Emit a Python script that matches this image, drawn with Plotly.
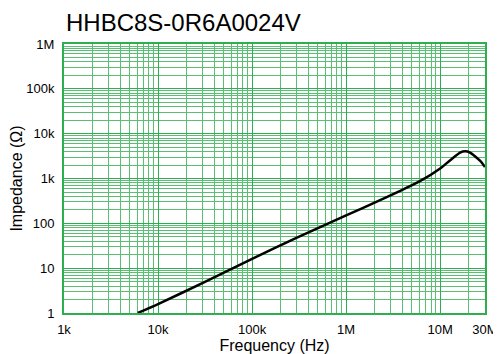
import plotly.graph_objects as go

title_text = "HHBC8S-0R6A0024V"
freq_hz = [6.1e3, 1e4, 3e4, 1e5, 3e5, 1e6, 2.3e6, 3.76e6, 6.1e6, 1e7, 1.28e7, 1.63e7, 1.84e7, 2.08e7, 2.67e7, 3e7]
impedance_ohm = [1.0, 1.58, 4.7, 16.2, 48, 150, 330, 530, 870, 1670, 2560, 3800, 4050, 3800, 2470, 1800]

x_tickvals = [1e3, 1e4, 1e5, 1e6, 1e7, 3e7]
x_ticktext = ["1k", "10k", "100k", "1M", "10M", "30M"]
y_tickvals = [1, 10, 100, 1e3, 1e4, 1e5, 1e6]
y_ticktext = ["1", "10", "100", "1k", "10k", "100k", "1M"]

x_minor = [m * 10**e for e in range(3, 8) for m in range(2, 10) if m * 10**e < 3e7]
y_minor = [m * 10**e for e in range(0, 6) for m in range(2, 10)]

green = "rgb(45,175,80)"
green_minor = "rgb(90,190,115)"
font = "Liberation Sans, Arial, Helvetica, sans-serif"

# the page body has an 8px margin, so the figure is sized 8px smaller
W, H = 493, 346

fig = go.Figure()
fig.add_trace(go.Scatter(x=freq_hz, y=impedance_ohm, mode="lines",
                         line=dict(color="black", width=2.5, shape="spline", smoothing=0.6),
                         showlegend=False, hoverinfo="skip"))

fig.update_layout(
    width=W, height=H,
    margin=dict(l=56, r=16, t=36, b=41, autoexpand=False),
    paper_bgcolor="white", plot_bgcolor="white",
    font=dict(family=font, color="black", size=13),
    title=dict(text=title_text, x=58/W, xref="container", xanchor="left",
               y=1 - 15/H, yref="container", yanchor="middle",
               font=dict(size=24, family=font, color="black"), automargin=False),
)
fig.update_xaxes(type="log", range=[3, 7.4771], tickvals=x_tickvals, ticktext=x_ticktext,
                 automargin=False,
                 showgrid=True, gridcolor=green, gridwidth=1,
                 minor=dict(tickvals=x_minor, showgrid=True, gridcolor=green_minor, gridwidth=1, ticklen=0),
                 showline=True, linecolor=green, linewidth=2, mirror=True,
                 ticks="outside", ticklen=3, tickcolor="rgba(0,0,0,0)",
                 tickfont=dict(size=13),
                 title=dict(text="Frequency (Hz)", font=dict(size=16), standoff=0),
                 zeroline=False)
fig.update_yaxes(type="log", range=[0, 6], tickvals=y_tickvals, ticktext=y_ticktext,
                 automargin=False,
                 showgrid=True, gridcolor=green, gridwidth=1,
                 minor=dict(tickvals=y_minor, showgrid=True, gridcolor=green_minor, gridwidth=1, ticklen=0),
                 showline=True, linecolor=green, linewidth=2, mirror=True,
                 ticks="outside", ticklen=5, tickcolor="rgba(0,0,0,0)",
                 tickfont=dict(size=13),
                 title=dict(text="Impedance (Ω)", font=dict(size=16), standoff=6),
                 zeroline=False)

fig.write_html("out.html")
